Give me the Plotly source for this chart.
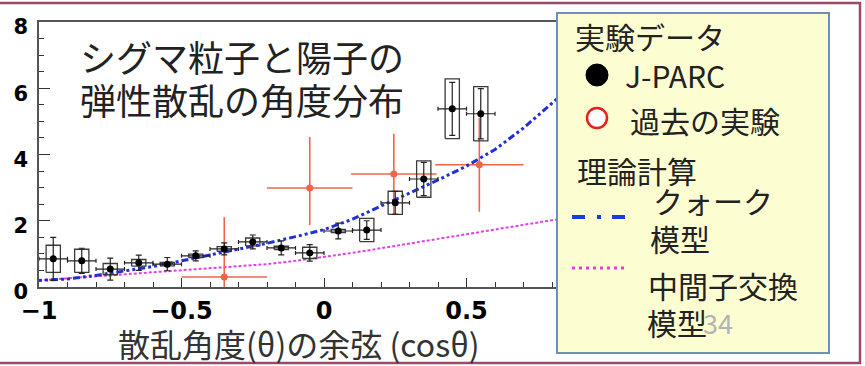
import plotly.graph_objects as go

W, H = 865, 366

# J-PARC measurement: bin centres, cross section, statistical and systematic errors
jparc_x = [-0.95, -0.85, -0.75, -0.65, -0.55, -0.45, -0.35, -0.25,
           -0.15, -0.05, 0.05, 0.15, 0.25, 0.35, 0.45, 0.55]
jparc_y = [0.85, 0.79, 0.54, 0.73, 0.69, 0.94, 1.15, 1.36,
           1.18, 1.03, 1.69, 1.72, 2.54, 3.26, 5.38, 5.23]
jparc_stat = [0.65, 0.38, 0.33, 0.23, 0.20, 0.15, 0.18, 0.21,
              0.21, 0.25, 0.24, 0.28, 0.35, 0.50, 0.80, 0.76]
jparc_sys = [0.41, 0.35, 0.17, 0.10, 0.05, 0.05, 0.07, 0.12,
             0.05, 0.17, 0.05, 0.35, 0.35, 0.55, 0.90, 0.82]
jparc_binhalf = 0.05
sys_box_half = 0.025

# Earlier experiments
past_x = [-0.35, -0.05, 0.245, 0.545]
past_y = [0.30, 2.99, 3.41, 3.69]
past_ex = [0.15, 0.15, 0.15, 0.155]
past_ey_up = [1.81, 1.54, 1.22, 1.42]
past_ey_dn = [0.30, 1.12, 1.22, 1.42]

# Theory curves
theory_x = [-1.0, -0.9, -0.8, -0.7, -0.6, -0.5, -0.4, -0.3, -0.2, -0.1, 0.0,
            0.1, 0.2, 0.3, 0.4, 0.5, 0.6, 0.7, 0.8, 0.9, 1.0]
quark_y = [0.20, 0.24, 0.35, 0.48, 0.62, 0.79, 0.97, 1.13, 1.32, 1.52, 1.73,
           2.05, 2.44, 2.85, 3.23, 3.65, 4.15, 4.80, 5.55, 6.30, 7.10]
meson_y = [0.20, 0.26, 0.31, 0.37, 0.43, 0.49, 0.55, 0.61, 0.69, 0.79, 0.90,
           1.03, 1.17, 1.31, 1.45, 1.59, 1.73, 1.87, 2.00, 2.15, 2.30]

x_ticks = [-1, -0.5, 0, 0.5]
x_ticktext = ["\u22121", "\u22120.5", "0", "0.5"]
y_ticks = [0, 2, 4, 6, 8]


def px(x):
    return x / W


def py(y):
    return 1 - y / H


fig = go.Figure()

# theory: meson exchange (dotted magenta) and quark model (dash-dot blue)
fig.add_trace(go.Scatter(x=theory_x, y=meson_y, mode="lines",
                         line=dict(color="#e040e8", width=2, dash="3px,2px")))

# earlier experiments
fig.add_trace(go.Scatter(
    x=past_x, y=past_y, mode="markers",
    marker=dict(color="#f26449", size=7, symbol="circle"),
    error_x=dict(type="data", array=past_ex, color="#f26449", thickness=1.6, width=0),
    error_y=dict(type="data", array=past_ey_up, arrayminus=past_ey_dn,
                 color="#f26449", thickness=1.6, width=0),
))

fig.add_trace(go.Scatter(x=theory_x, y=quark_y, mode="lines",
                         line=dict(color="#2030d8", width=3, dash="3px,3px,3px,3px,7px,3px")))

# systematic-error boxes around each J-PARC point
bx, by = [], []
for xc, yc, s in zip(jparc_x, jparc_y, jparc_sys):
    x0, x1 = xc - sys_box_half, xc + sys_box_half
    y0, y1 = yc - s, yc + s
    bx += [x0, x1, x1, x0, x0, None]
    by += [y0, y0, y1, y1, y0, None]
fig.add_trace(go.Scatter(x=bx, y=by, mode="lines",
                         line=dict(color="#3a3a3a", width=1.3)))

# J-PARC points with statistical errors
fig.add_trace(go.Scatter(
    x=jparc_x, y=jparc_y, mode="markers",
    marker=dict(color="black", size=7),
    error_x=dict(type="constant", value=jparc_binhalf, color="#222", thickness=1.2, width=2),
    error_y=dict(type="data", array=jparc_stat, color="#222", thickness=1.2, width=3),
))

axis_line = "#555555"
fig.update_layout(
    width=W, height=H,
    margin=dict(l=0, r=0, t=0, b=0),
    paper_bgcolor="white", plot_bgcolor="white",
    showlegend=False,
    xaxis=dict(
        domain=[39 / W, 609 / W], range=[-1, 1], automargin=False,
        tickvals=x_ticks, ticktext=x_ticktext,
        ticks="inside", ticklen=9, tickwidth=1.3, tickcolor="#333",
        minor=dict(dtick=0.1, ticks="inside", ticklen=5, tickwidth=1.1, tickcolor="#333"),
        showgrid=False, zeroline=False,
        showline=True, linecolor=axis_line, linewidth=1.5, mirror=True,
        tickfont=dict(family="DejaVu Sans", size=24, color="black", weight="bold"),
        ticklabelstandoff=1,
    ),
    yaxis=dict(
        domain=[1 - 287 / H, 1 - 22 / H], range=[0, 8], automargin=False,
        tickvals=y_ticks,
        ticks="inside", ticklen=11, tickwidth=1.3, tickcolor="#333",
        minor=dict(dtick=0.5, ticks="inside", ticklen=5, tickwidth=1.1, tickcolor="#333"),
        showgrid=False, zeroline=False,
        showline=True, linecolor=axis_line, linewidth=1.5, mirror=True,
        tickfont=dict(family="DejaVu Sans", size=21, color="black", weight="bold"),
        ticklabelstandoff=5, ticklabelshift=5,
    ),
)

shapes = []
# outer slide frame
shapes.append(dict(type="rect", xref="paper", yref="paper",
                   x0=px(-10), x1=px(860), y0=py(363), y1=py(3),
                   line=dict(color="#9b4a6c", width=2.5), fillcolor="rgba(0,0,0,0)"))
# legend panel
shapes.append(dict(type="rect", xref="paper", yref="paper",
                   x0=px(557), x1=px(829), y0=py(353), y1=py(13),
                   line=dict(color="#6f8fb8", width=2), fillcolor="#fdfdd2"))
# legend symbols
shapes.append(dict(type="circle", xref="paper", yref="paper",
                   x0=px(586), x1=px(608), y0=py(86), y1=py(64),
                   line=dict(color="black", width=1), fillcolor="black"))
shapes.append(dict(type="circle", xref="paper", yref="paper",
                   x0=px(587), x1=px(607), y0=py(128), y1=py(108),
                   line=dict(color="#e8201c", width=2.5), fillcolor="white"))
shapes.append(dict(type="line", xref="paper", yref="paper",
                   x0=px(572), x1=px(627), y0=py(217), y1=py(217),
                   line=dict(color="#1a3be0", width=4, dash="13px,12px,4px,11px")))
shapes.append(dict(type="line", xref="paper", yref="paper",
                   x0=px(572), x1=px(624), y0=py(268), y1=py(268),
                   line=dict(color="#e040d8", width=3, dash="3px,4px")))
fig.update_layout(shapes=shapes)

jp = "Noto Sans CJK JP"
txt = "#222222"


def note(text, x, y, size, color=txt, anchor="left", family=jp):
    fig.add_annotation(text=text, xref="paper", yref="paper", x=px(x), y=py(y),
                       xanchor=anchor, yanchor="middle", showarrow=False,
                       font=dict(family=family, size=size, color=color))


# chart heading inside the frame
note("シグマ粒子と陽子の", 78, 56, 36)
note("弾性散乱の角度分布", 78, 99, 36)

# x-axis title
note("散乱角度(θ)の余弦 (cosθ)", 299, 343, 32, color="#333333", anchor="center")

# legend entries
note("実験データ", 573, 36, 30)
note("J-PARC", 623, 75, 30)
note("過去の実験", 628, 120, 30)
note("理論計算", 575, 170, 30)
note("クォーク", 651, 200, 30)
note("模型", 648, 238, 30)
note("中間子交換", 646, 285, 30)
note("模型", 645, 322, 30)
note("34", 701, 322, 27, color="#b4b4b4")

fig.write_html("out.html")
